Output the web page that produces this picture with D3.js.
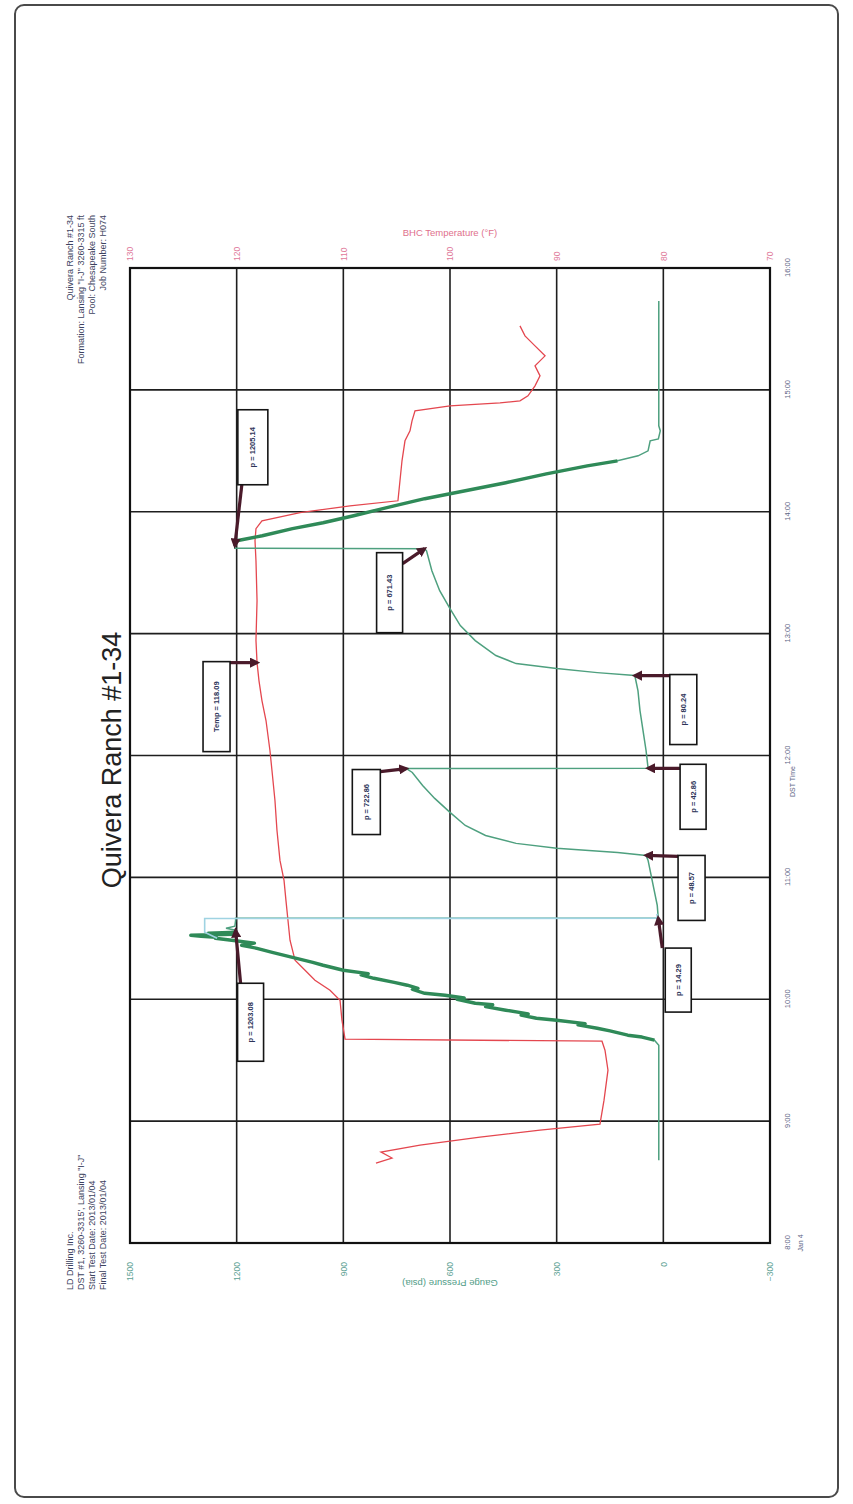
<!DOCTYPE html>
<html>
<head>
<meta charset="utf-8">
<title>Quivera Ranch #1-34 DST</title>
<script src="https://cdn.jsdelivr.net/npm/d3@7"></script>
<style>
  html, body { margin: 0; padding: 0; background: #fff; }
  svg { display: block; font-family: "Liberation Sans", Arial, sans-serif; }
</style>
</head>
<body>
<svg id="chart" width="853" height="1504"></svg>
<script>
// ---- Drill stem test readings: [clock hour, gauge pressure psia] ----
const runIn = [
  [8.680, 12.8], [9.623, 12.8], [9.664, 25], [9.690, 60], [9.705, 100], [9.740, 150],
  [9.762, 186], [9.790, 240], [9.800, 220], [9.828, 300], [9.844, 357], [9.870, 400],
  [9.880, 380], [9.910, 443], [9.940, 500], [9.955, 480], [9.967, 529], [10.000, 580],
  [10.010, 560], [10.033, 614], [10.049, 671], [10.080, 705], [10.090, 690], [10.115, 720],
  [10.139, 757], [10.172, 814], [10.200, 850], [10.210, 830], [10.238, 900], [10.279, 957],
  [10.303, 986], [10.344, 1043], [10.385, 1100], [10.418, 1143], [10.443, 1186], [10.460, 1150],
  [10.484, 1214], [10.500, 1260], [10.508, 1257], [10.516, 1300], [10.525, 1329], [10.533, 1210],
  [10.541, 1280], [10.550, 1200], [10.566, 1203.08], [10.582, 1230], [10.600, 1205],
  [10.648, 1203], [10.664, 1203]
];
const flow1 = [
  [10.666, 14.29], [10.770, 17.1], [10.893, 25.7], [11.016, 34.3], [11.139, 42.9], [11.180, 48.57]
];
const shutIn1 = [
  [11.205, 128.6], [11.238, 300], [11.279, 414], [11.344, 500], [11.426, 557], [11.533, 600],
  [11.648, 643], [11.754, 677], [11.861, 706], [11.893, 722.86]
];
const flow2 = [
  [11.895, 42.86], [12.041, 48.6], [12.205, 57.1], [12.369, 65.7], [12.533, 71.4], [12.656, 80.24]
];
const shutIn2 = [
  [12.680, 186], [12.713, 300], [12.754, 414], [12.820, 471], [12.943, 529], [13.066, 571],
  [13.205, 600], [13.352, 629], [13.516, 651], [13.680, 666], [13.697, 671.43]
];
const pullOut = [
  [13.700, 1205.14], [13.721, 1205.14], [13.762, 1200], [13.803, 1128], [13.861, 1043],
  [13.910, 957], [13.967, 871], [14.049, 757], [14.107, 671], [14.172, 557], [14.238, 443],
  [14.311, 329], [14.377, 214], [14.418, 129], [14.459, 71], [14.500, 43], [14.582, 37],
  [14.598, 14], [14.664, 8.6], [14.705, 12.8], [15.730, 12.8]
];
// inside recorder trace around the tool opening
const insideGauge = [
  [10.500, 1255], [10.550, 1290], [10.662, 1290], [10.664, 16], [10.700, 18]
];

// ---- Temperature readings: [clock hour, deg F] ----
const tempReadings = [
  [8.656, 106.94], [8.697, 105.44], [8.746, 106.47], [8.803, 102.81], [8.869, 97.19],
  [8.926, 91.56], [8.975, 85.94], [9.172, 85.56], [9.418, 85.19], [9.582, 85.47],
  [9.656, 85.75], [9.672, 109.84], [9.828, 110.13], [9.992, 110.31], [10.074, 111.25],
  [10.156, 112.66], [10.238, 113.59], [10.320, 114.53], [10.484, 115.00], [10.648, 115.19],
  [10.811, 115.38], [10.975, 115.56], [11.139, 115.94], [11.385, 116.22], [11.631, 116.41],
  [11.877, 116.69], [12.041, 116.88], [12.287, 117.25], [12.451, 117.63], [12.615, 117.91],
  [12.762, 118.09], [12.943, 118.19], [13.270, 118.09], [13.598, 118.19], [13.762, 118.28],
  [13.861, 118.19], [13.926, 117.63], [13.992, 114.06], [14.049, 109.38], [14.090, 104.88],
  [14.254, 104.69], [14.418, 104.50], [14.582, 104.22], [14.664, 103.75], [14.746, 103.56],
  [14.828, 103.28], [14.869, 100.00], [14.893, 95.31], [14.910, 93.44], [14.951, 92.69],
  [15.033, 92.03], [15.115, 91.56], [15.197, 92.03], [15.279, 91.09], [15.361, 92.03],
  [15.443, 92.97], [15.525, 93.44]
];

// ---- Axis ticks ----
const hourTicks = [8, 9, 10, 11, 12, 13, 14, 15, 16];
const hourLabels = ["8:00", "9:00", "10:00", "11:00", "12:00", "13:00", "14:00", "15:00", "16:00"];
const pressTicks = [-300, 0, 300, 600, 900, 1200, 1500];
const tempTicks = [70, 80, 90, 100, 110, 120, 130];

// ---- Point callouts ----
const noteText = ["p = 1203.08", "p = 14.29", "p = 48.57", "p = 722.86", "p = 42.86",
                  "p = 80.24", "Temp = 118.09", "p = 671.43", "p = 1205.14"];
const noteHour = [10.566, 10.666, 11.180, 11.893, 11.895, 12.656, 12.762, 13.697, 13.721];
const noteValue = [1203.08, 14.29, 48.57, 722.86, 42.86, 80.24, 118.09, 671.43, 1205.14];
const noteKind = ["p", "p", "p", "p", "p", "p", "t", "p", "p"];

// ---- Header text ----
const headLeft = ["LD Drilling Inc.", "DST #1, 3260-3315', Lansing \"I-J\"",
                  "Start Test Date: 2013/01/04", "Final Test Date: 2013/01/04"];
const headRight = ["Quivera Ranch #1-34", "Formation: Lansing \"I-J\" 3260-3315 ft",
                   "Pool: Chesapeake South", "Job Number: H074"];

// The sheet is laid out in landscape and turned a quarter turn on the page.
const svg = d3.select("#chart");
const sheet = svg.append("g").attr("transform", "translate(0,1504) rotate(-90)");

const plot = { left: 261, right: 1236, top: 130, bottom: 770 };
const x = d3.scaleLinear().domain([8, 16]).range([plot.left, plot.right]);
const yP = d3.scaleLinear().domain([-300, 1500]).range([plot.bottom, plot.top]);
const yT = d3.scaleLinear().domain([70, 130]).range([plot.bottom, plot.top]);

const defs = svg.append("defs");
defs.append("marker").attr("id", "head")
  .attr("viewBox", "0 0 10 10").attr("refX", 7).attr("refY", 5)
  .attr("markerWidth", 3.2).attr("markerHeight", 3.2).attr("orient", "auto")
  .append("path").attr("d", "M0,0 L10,5 L0,10 z").attr("fill", "#4a1a2a");

// sheet border
sheet.append("rect").attr("x", 7).attr("y", 15).attr("width", 1492).attr("height", 823)
  .attr("rx", 9).attr("fill", "none").attr("stroke", "#4a4a4a").attr("stroke-width", 2);

// grid
const grid = sheet.append("g").attr("stroke", "#1e1e1e").attr("stroke-width", 1.6);
grid.selectAll("line.v").data(hourTicks).join("line").attr("class", "v")
  .attr("x1", d => x(d)).attr("x2", d => x(d)).attr("y1", plot.top).attr("y2", plot.bottom);
grid.selectAll("line.h").data(pressTicks).join("line").attr("class", "h")
  .attr("x1", plot.left).attr("x2", plot.right).attr("y1", d => yP(d)).attr("y2", d => yP(d));
sheet.append("rect").attr("x", plot.left).attr("y", plot.top)
  .attr("width", plot.right - plot.left).attr("height", plot.bottom - plot.top)
  .attr("fill", "none").attr("stroke", "#111").attr("stroke-width", 2.2);

// axes
function tidy(g, color, size) {
  g.select(".domain").remove();
  g.selectAll("text").attr("fill", color).attr("font-size", size);
}
sheet.append("g").attr("transform", `translate(${plot.left},0)`)
  .call(d3.axisLeft(yP).tickValues(pressTicks).tickSize(0).tickPadding(19).tickFormat(d3.format("d")))
  .call(g => tidy(g, "#5c9f93", 8.5));
sheet.append("g").attr("transform", `translate(${plot.right},0)`)
  .call(d3.axisRight(yT).tickValues(tempTicks).tickSize(0).tickPadding(7).tickFormat(d3.format("d")))
  .call(g => tidy(g, "#e0799a", 8.5));
sheet.append("g").attr("transform", `translate(0,${plot.bottom})`)
  .call(d3.axisBottom(x).tickValues(hourTicks).tickSize(0).tickPadding(15)
    .tickFormat((d, i) => hourLabels[i]))
  .call(g => tidy(g, "#5d6585", 7.5));
sheet.append("text").attr("x", x(8)).attr("y", plot.bottom + 33).attr("text-anchor", "middle")
  .attr("font-size", 7).attr("fill", "#5d6585").text("Jan 4");
sheet.append("text").attr("x", x(12) - 26).attr("y", plot.bottom + 25).attr("text-anchor", "middle")
  .attr("font-size", 7).attr("fill", "#5d6585").text("DST Time");

// axis titles
sheet.append("text").attr("transform", `translate(1271,450) rotate(90)`)
  .attr("text-anchor", "middle").attr("dy", "0.35em").attr("font-size", 9.5)
  .attr("fill", "#e0708c").text("BHC Temperature (°F)");
sheet.append("text").attr("transform", `translate(221,450) rotate(-90)`)
  .attr("text-anchor", "middle").attr("dy", "0.35em").attr("font-size", 9.5)
  .attr("fill", "#4f9b86").text("Gauge Pressure (psia)");

// title and headers
sheet.append("text").attr("x", 744).attr("y", 121).attr("text-anchor", "middle")
  .attr("font-size", 27).attr("fill", "#222").text("Quivera Ranch #1-34");
sheet.append("g").selectAll("text").data(headLeft).join("text")
  .attr("x", 214).attr("y", (d, i) => 73 + i * 11).attr("font-size", 9)
  .attr("fill", "#3d4360").text(d => d);
sheet.append("g").selectAll("text").data(headRight).join("text")
  .attr("x", 1289).attr("y", (d, i) => 73 + i * 11).attr("text-anchor", "end").attr("font-size", 9)
  .attr("fill", "#3d4360").text(d => d);

// traces
const tempLine = d3.line().x(d => x(d[0])).y(d => yT(d[1]));
const pressLine = d3.line().x(d => x(d[0])).y(d => yP(d[1]));

sheet.append("path").datum(tempReadings).attr("d", tempLine)
  .attr("fill", "none").attr("stroke", "#e4474f").attr("stroke-width", 1.3);

const allPressure = [].concat(runIn, flow1, shutIn1, flow2, shutIn2, pullOut);
sheet.append("path").datum(allPressure).attr("d", pressLine)
  .attr("fill", "none").attr("stroke", "#4ea07f").attr("stroke-width", 1.5);
[runIn.slice(2, 44), pullOut.slice(1, 14)].forEach(seg => {
  sheet.append("path").datum(seg).attr("d", pressLine)
    .attr("fill", "none").attr("stroke", "#2f8a58").attr("stroke-width", 3.4)
    .attr("stroke-linejoin", "round");
});
sheet.append("path").datum(insideGauge).attr("d", pressLine)
  .attr("fill", "none").attr("stroke", "#9fd3e2").attr("stroke-width", 1.6);

// callouts: box offset from the marked point, box size, arrow tail offset
const noteLayout = [
  { bx: -131, by: 2, bw: 78, bh: 26, ax: -53, ay: 5 },
  { bx: -94, by: 7, bw: 64, bh: 26, ax: -30, ay: 4 },
  { bx: -65, by: 32, bw: 65, bh: 27, ax: -1, ay: 32 },
  { bx: -66, by: -54, bw: 65, bh: 28, ax: -3, ay: -26 },
  { bx: -61, by: 32, bw: 65, bh: 26, ax: 0, ay: 32 },
  { bx: -69, by: 35, bw: 70, bh: 27, ax: 0, ay: 35 },
  { bx: -89, by: -54, bw: 90, bh: 27, ax: 0, ay: -27 },
  { bx: -84, by: -48, bw: 80, bh: 26, ax: -15, ay: -22 },
  { bx: 61, by: 3, bw: 75, bh: 30, ax: 61, ay: 7 }
];
const notes = noteText.map((t, i) => ({
  text: t,
  px: x(noteHour[i]),
  py: noteKind[i] === "t" ? yT(noteValue[i]) : yP(noteValue[i]),
  ...noteLayout[i]
}));
const ng = sheet.append("g").selectAll("g").data(notes).join("g");
ng.append("line")
  .attr("x1", d => d.px + d.ax).attr("y1", d => d.py + d.ay)
  .attr("x2", d => d.px).attr("y2", d => d.py)
  .attr("stroke", "#4a1a2a").attr("stroke-width", 3.2).attr("marker-end", "url(#head)");
ng.append("rect")
  .attr("x", d => d.px + d.bx).attr("y", d => d.py + d.by)
  .attr("width", d => d.bw).attr("height", d => d.bh)
  .attr("fill", "#fff").attr("stroke", "#151515").attr("stroke-width", 1.6);
ng.append("text")
  .attr("x", d => d.px + d.bx + d.bw / 2).attr("y", d => d.py + d.by + d.bh / 2)
  .attr("dy", "0.35em").attr("text-anchor", "middle").attr("font-size", 7.5)
  .attr("font-weight", "bold").attr("fill", "#2c3358").text(d => d.text);
</script>
</body>
</html>
